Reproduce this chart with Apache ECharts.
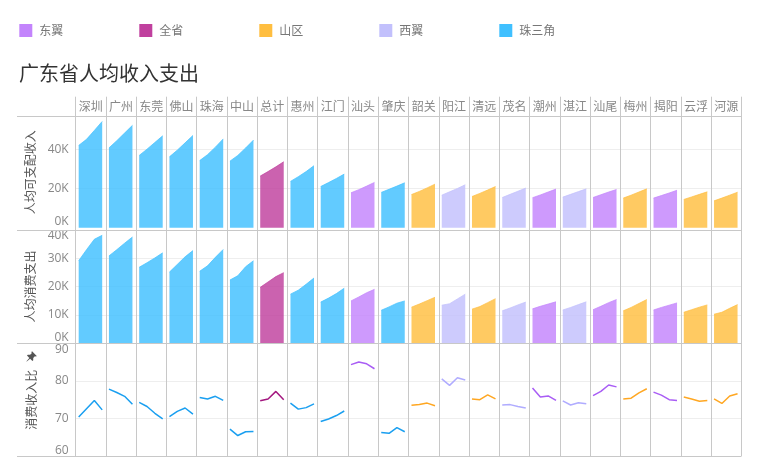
<!DOCTYPE html>
<html><head><meta charset="utf-8">
<script src="https://cdn.jsdelivr.net/npm/echarts@6/dist/echarts.min.js"></script>
<style>html,body{margin:0;padding:0;background:#fff}#c{width:761px;height:476px}</style>
</head><body><div id="c"></div>
<script>
// ---------- data ----------
const years = ['2014', '2015', '2016', '2017'];
const cities = ['深圳','广州','东莞','佛山','珠海','中山','总计','惠州','江门','汕头','肇庆','韶关','阳江','清远','茂名','潮州','湛江','汕尾','梅州','揭阳','云浮','河源'];
const cityRegion = ['珠三角','珠三角','珠三角','珠三角','珠三角','珠三角','全省','珠三角','珠三角','东翼','珠三角','山区','西翼','山区','西翼','东翼','西翼','东翼','山区','东翼','山区','山区'];
const regions = ['东翼', '全省', '山区', '西翼', '珠三角'];
const regionColors = ['#c384fc', '#c0409e', '#ffbe40', '#c2c0fc', '#40c0ff'];
const regionLineColors = ['#a95df5', '#a3177f', '#ffa722', '#b0acff', '#1a9ff0'];
const rowNames = ['人均可支配收入', '人均消费支出', '消费收入比'];

const income = [
  [41900,45000,49500,54100],[40600,44300,48200,52100],[36800,40000,43400,46800],[36100,39500,43200,47000],
  [34200,37200,41000,45200],[33900,36800,40600,44600],[26300,28600,31000,33600],[23600,26000,28600,31600],
  [21000,23000,25100,27300],[17800,19400,21200,23100],[18000,19600,21200,22900],[16900,18500,20300,22200],
  [16600,18300,20000,21900],[15900,17500,19200,21000],[15400,17000,18600,20200],[15300,16700,18200,19700],
  [15600,17000,18400,19800],[15400,16800,18200,19500],[15100,16600,18200,19800],[15100,16400,17700,19100],
  [14400,15700,17000,18300],[13700,15100,16600,18100]
];
const spending = [
  [29100,33000,36700,38100],[30800,33000,35300,37500],[26800,28400,30100,31900],[25100,27800,30500,32700],
  [25400,27300,30300,33100],[22300,23800,27000,29100],[19700,21600,23500,24900],[17300,18700,20800,23000],
  [14500,15900,17500,19400],[14900,16300,17800,19000],[11600,12800,14100,14900],[12700,13800,15000,16200],
  [13400,13900,15600,17300],[12000,12900,14300,15700],[11400,12400,13500,14500],[12100,13000,13800,14600],
  [11700,12600,13600,14600],[11800,13000,14300,15400],[11400,12600,14000,15400],[11700,12600,13400,14200],
  [10900,11800,12700,13500],[10200,10900,12300,13600]
];
const ratio = [
  [70.4,72.6,74.8,72.3],[77.8,76.9,75.9,73.8],[74.3,73.2,71.4,69.9],[70.5,71.9,72.8,71.2],
  [75.6,75.2,75.9,74.8],[67.2,65.5,66.5,66.6],[74.7,75.2,77.2,75.0],[74.1,72.5,72.9,73.9],
  [69.2,69.9,70.8,72.0],[84.3,85.0,84.5,83.2],[66.3,66.1,67.6,66.5],[73.5,73.7,74.1,73.4],
  [80.5,78.8,80.8,80.2],[75.2,75.0,76.3,75.2],[73.6,73.7,73.2,72.8],[78.1,75.7,76.0,74.8],
  [74.7,73.6,74.2,73.9],[76.1,77.2,78.9,78.4],[75.2,75.4,76.8,77.9],[77.0,76.2,75.0,74.8],
  [75.7,75.2,74.6,74.8],[75.2,74.0,76.0,76.6]
];
const incomeTicks = [0, 20000, 40000];
const spendingTicks = [0, 10000, 20000, 30000, 40000];
const ratioTicks = [60, 70, 80, 90];

// ---------- layout ----------
const colL = 75.7, colW = 30.255, nCol = cities.length;
const frameRight = colL + colW * nCol;       // ~741.3
const rowTop = [116.7, 229.9, 343.1];
const rowH = [111.1, 113.2, 113.2];
const frameBottom = 456.3;
const rowData = [income, spending, ratio];
const rowMin = [incomeTicks[0], spendingTicks[0], ratioTicks[0]];
const rowMax = [56500, spendingTicks[spendingTicks.length - 1], ratioTicks[ratioTicks.length - 1]];
const rowInterval = [incomeTicks[1] - incomeTicks[0], spendingTicks[1] - spendingTicks[0], ratioTicks[1] - ratioTicks[0]];
const CJK = "'Noto Sans CJK SC', sans-serif";
const NUM = "'Open Sans', 'Noto Sans CJK SC', sans-serif";
const FRAME = '#c8c8c8';

const grids = [], xAxes = [], yAxes = [], series = [];
function addGrid(g, x, y) {
  grids.push(g);
  const gi = grids.length - 1;
  x.gridIndex = gi; y.gridIndex = gi;
  xAxes.push(x); yAxes.push(y);
  return { xi: xAxes.length - 1, yi: yAxes.length - 1 };
}

// column separators + header labels
addGrid({ left: colL, top: 96.7, width: colW * nCol, height: frameBottom - 96.7 },
  { type: 'category', data: cities, position: 'top', z: 4,
    axisLine: { show: false }, axisTick: { show: false },
    axisLabel: { inside: true, margin: 4, color: '#888', fontSize: 12, fontFamily: CJK, interval: 0 },
    splitLine: { show: true, lineStyle: { color: FRAME, width: 1 } } },
  { type: 'value', show: false });

// row separators
addGrid({ left: 17, top: rowTop[0], width: frameRight - 17, height: frameBottom - rowTop[0] },
  { type: 'value', show: false },
  { type: 'value', min: 0, max: 3, interval: 1, z: 4,
    axisLine: { show: false }, axisTick: { show: false }, axisLabel: { show: false },
    splitLine: { show: true, lineStyle: { color: FRAME, width: 1 } } });

// row axes (labels, names, gridlines)
for (let r = 0; r < 3; r++) {
  const fmt = r === 2 ? (v => String(v)) : (v => (v / 1000) + 'K');
  addGrid({ left: colL, top: rowTop[r], width: colW * nCol, height: rowH[r] },
    { type: 'value', show: false },
    { type: 'value', min: rowMin[r], max: rowMax[r], interval: rowInterval[r],
      name: rowNames[r], nameLocation: 'middle', nameRotate: 90, nameGap: 38,
      nameTextStyle: { color: '#555', fontSize: 12, fontFamily: CJK },
      axisLine: { show: false }, axisTick: { show: false },
      axisLabel: { color: '#888', fontSize: 12, fontFamily: NUM, margin: 7, formatter: fmt,
        showMaxLabel: r !== 0,
        verticalAlignMinLabel: 'bottom', verticalAlignMaxLabel: 'top' },
      splitLine: { show: true, showMinLine: false, showMaxLine: false, lineStyle: { color: '#eeeeee', width: 1 } } });
}

// cells
for (let r = 0; r < 3; r++) {
  for (let i = 0; i < nCol; i++) {
    const ax = addGrid({ left: colL + i * colW, top: rowTop[r], width: colW, height: rowH[r] },
      { type: 'value', min: -0.38, max: 3.48, show: false },
      { type: 'value', min: rowMin[r], max: rowMax[r], show: false });
    const ri = regions.indexOf(cityRegion[i]);
    const vals = rowData[r][i];
    const s = {
      type: 'line', name: cityRegion[i], xAxisIndex: ax.xi, yAxisIndex: ax.yi,
      data: years.map((y, j) => [j, vals[j]]),
      showSymbol: false, silent: true, smooth: false
    };
    if (r < 2) {
      s.itemStyle = { color: regionColors[ri] };
      s.lineStyle = { color: regionColors[ri], width: 1, opacity: 0.7 };
      s.areaStyle = { color: regionColors[ri], opacity: 0.82 };
    } else {
      s.itemStyle = { color: regionLineColors[ri] };
      s.lineStyle = { color: regionLineColors[ri], width: 1.5 };
    }
    series.push(s);
  }
}

const legends = regions.map((name, k) => ({
  left: 19.3 + 120 * k, top: 24, padding: 0, itemWidth: 13, itemHeight: 13, icon: 'rect',
  selectedMode: false,
  data: [{ name, itemStyle: { color: regionColors[k] } }],
  textStyle: { color: '#777', fontSize: 12, fontFamily: CJK, padding: [0, 0, 0, 2] }
}));

// pushpin decoration (24x24 local box, pointing down, rotated)
const pinPoints = [[6,2],[18,2],[18,4.2],[16,4.2],[16,9],[19,12],[19,14],[13,14],[12.4,22],[11.6,22],[11,14],[5,14],[5,12],[8,9],[8,4.2],[6,4.2]];

const chart = echarts.init(document.getElementById('c'), null, { renderer: 'canvas' });
chart.setOption({
  animation: false,
  textStyle: { fontFamily: CJK },
  title: { text: '广东省人均收入支出', left: 19, top: 63, padding: 0,
    textStyle: { fontSize: 20, fontWeight: 'normal', color: '#333', fontFamily: CJK } },
  legend: legends,
  grid: grids, xAxis: xAxes, yAxis: yAxes, series,
  graphic: [{ type: 'polygon', shape: { points: pinPoints }, style: { fill: '#555' },
    x: 18.5, y: 345.5, scaleX: 0.55, scaleY: 0.55, originX: 12, originY: 12, rotation: -Math.PI / 4 }]
});
</script>
</body></html>
